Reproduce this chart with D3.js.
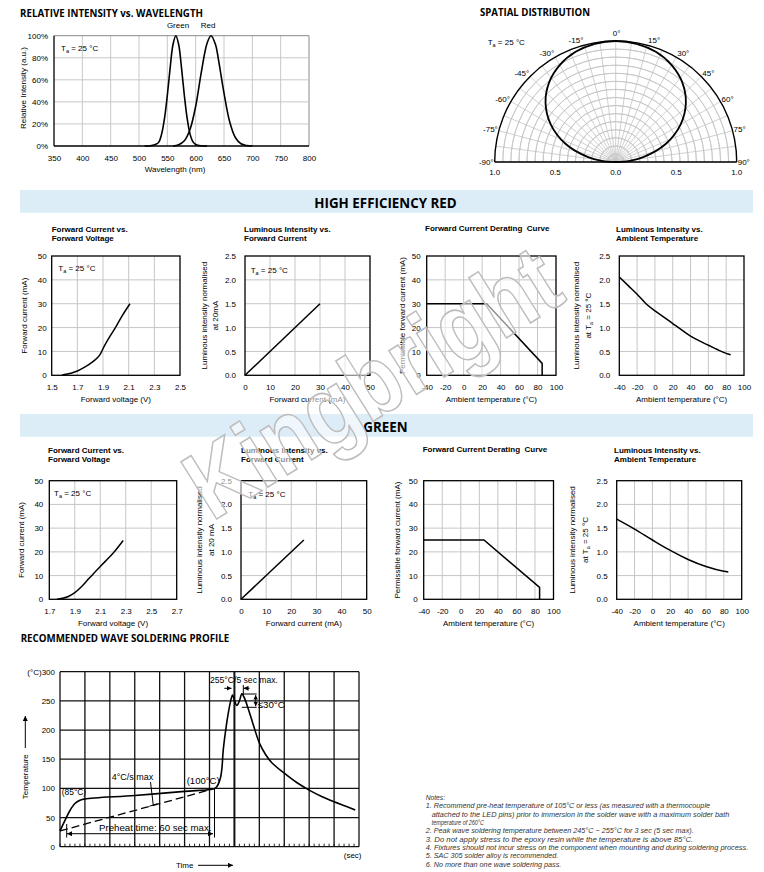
<!DOCTYPE html>
<html><head><meta charset="utf-8">
<script src="https://cdn.jsdelivr.net/npm/d3@7"></script>
<style>
body{margin:0;background:#fff;}
svg{display:block;}
text{white-space:pre;}
</style></head><body>
<svg id="c" width="764" height="872"></svg>
<script>
// ---------- DATA ----------
const wavelengthTicks = [350,400,450,500,550,600,650,700,750,800];
const intensityTicks = [0,20,40,60,80,100];
const greenSpectrum = [[510,0],[520,0.3],[530,1.5],[535,3.5],[540,11],[545,25],[550,46],[555,71],[560,92],[565,100],[570,92],[575,71],[580,46],[585,25],[590,11],[595,4],[600,1.4],[610,0.2],[620,0]];
const redSpectrum = [[560,0],[570,1.1],[580,4.7],[590,15],[600,36],[610,67],[620,93],[627,100],[635,92],[640,79],[650,48],[660,22],[670,7.7],[680,2],[690,0.4],[700,0]];

const polarAngles = [-90,-85,-80,-70,-60,-50,-40,-30,-20,-10,0,10,20,30,40,50,60,70,80,85,90];
const polarValues = [0,0.117,0.231,0.442,0.619,0.757,0.857,0.925,0.969,0.992,1,0.992,0.969,0.925,0.857,0.757,0.619,0.442,0.231,0.117,0];
const polarLabelAngles = [-90,-75,-60,-45,-30,-15,0,15,30,45,60,75,90];
const polarAxisValues = [-1,-0.5,0,0.5,1];

const redIV = [[1.58,0],[1.6,0.3],[1.65,0.9],[1.7,1.8],[1.75,3.2],[1.8,4.9],[1.85,7],[1.88,9],[1.9,11.2],[1.95,16],[2.0,20.3],[2.05,25],[2.11,30]];
const redLI = [[0,0],[30,1.5]];
const redDerating = [[-40,30],[25,30],[85,5],[85,0]];
const redLT = [[-40,2.06],[-30,1.88],[-20,1.7],[-10,1.5],[0,1.35],[10,1.22],[20,1.085],[30,0.95],[40,0.82],[50,0.72],[60,0.63],[70,0.54],[80,0.46],[85,0.43]];

const greenIV = [[1.76,0],[1.8,0.4],[1.85,1.2],[1.9,2.8],[1.95,5.2],[2.0,8.1],[2.05,11],[2.1,13.8],[2.15,16.6],[2.2,19.4],[2.28,24.8]];
const greenLI = [[0,0],[25,1.25]];
const greenDerating = [[-40,25],[25,25],[85,5],[85,0]];
const greenLT = [[-40,1.69],[-20,1.48],[0,1.25],[20,1.03],[40,0.84],[60,0.69],[80,0.59],[85,0.575]];

const redVoltTicks = [1.5,1.7,1.9,2.1,2.3,2.5];
const greenVoltTicks = [1.7,1.9,2.1,2.3,2.5,2.7];
const currentTicks = [0,10,20,30,40,50];
const ratioTicks = [0,0.5,1.0,1.5,2.0,2.5];
const tempTicks = [-40,-20,0,20,40,60,80,100];

const solderProfile = [[0,27],[4,45],[8,62],[12,74],[16,79.5],[20,82],[60,87.8],[100,94.8],[122,98.5],[125,101],[127,107],[129,120],[130,135],[131,165],[133,200],[135,228],[137,250],[138.5,260],[140,251],[142,242],[144,250],[146,262],[148,255],[151,237],[155,210],[160,178],[165,158],[170,144],[180,126],[190,110],[200,97],[210,86],[220,77],[230,69],[237,63]];
const solderRamp = [[0,27],[122,98.5]];
const solderTimeTicks = [0,20,40,60,80,100,120,140,160,180,200,220,240];
const solderTempTicks = [0,50,100,150,200,250,300];

const notes = ["Notes:",
"1. Recommend pre-heat temperature of 105°C or less (as measured with a thermocouple",
"attached to the LED pins) prior to immersion in the solder wave with a maximum solder bath",
"temperature of 260°C",
"2. Peak wave soldering temperature between 245°C ~ 255°C for 3 sec (5 sec max).",
"3. Do not apply stress to the epoxy resin while the temperature is above 85°C.",
"4. Fixtures should not incur stress on the component when mounting and during soldering process.",
"5. SAC 305 solder alloy is recommended.",
"6. No more than one wave soldering pass."];

// ---------- HELPERS ----------
const FONT = '"Liberation Sans", Arial, sans-serif';
const svg = d3.select('#c');
svg.append('rect').attr('width',764).attr('height',872).attr('fill','#fff');
const defs = svg.append('defs');
defs.append('marker').attr('id','ah').attr('viewBox','0 0 6 6').attr('refX',6).attr('refY',3)
  .attr('markerWidth',5).attr('markerHeight',5).attr('orient','auto-start-reverse')
  .append('path').attr('d','M0,0 L6,3 L0,6 z').attr('fill','#000');

function text(g, x, y, s, o={}) {
  const t = g.append('text').attr('x',x).attr('y',y).text(s)
    .attr('font-size', o.size||8).attr('font-family', o.family||FONT)
    .attr('text-anchor', o.anchor||'start').attr('fill', o.fill||'#000');
  if (o.weight) t.attr('font-weight', o.weight);
  if (o.style) t.attr('font-style', o.style);
  if (o.len) t.attr('textLength', o.len).attr('lengthAdjust','spacingAndGlyphs');
  if (o.rotate) t.attr('transform', `rotate(${o.rotate},${x},${y})`);
  return t;
}
function taText(g, x, y, o={}) {
  const t = g.append('text').attr('x',x).attr('y',y).attr('font-size',o.size||8)
    .attr('font-family',FONT).attr('text-anchor',o.anchor||'start');
  if (o.rotate) t.attr('transform', `rotate(${o.rotate},${x},${y})`);
  t.append('tspan').text((o.prefix||'')+'T');
  t.append('tspan').text('a').attr('font-size',5.5).attr('dy',1.8);
  t.append('tspan').text(' = 25 °C').attr('dy',-1.8);
  return t;
}
const f1 = d3.format('.1f');
const fd = d => String(d);

// ---------- SPECTRUM ----------
(function(){
  const g = svg.append('g');
  const x = d3.scaleLinear().domain([350,800]).range([54,309]);
  const y = d3.scaleLinear().domain([0,100]).range([146,35.7]);
  text(g,20,16.5,'RELATIVE INTENSITY vs. WAVELENGTH',{size:11,weight:'bold',family:'"Open Sans",sans-serif',len:183});
  g.append('g').selectAll('line').data(wavelengthTicks.slice(1)).join('line')
    .attr('x1',d=>x(d)).attr('x2',d=>x(d)).attr('y1',y(0)).attr('y2',y(100))
    .attr('stroke',(d,i,a)=>i===a.length-1?'#8a8a8a':'#c8c8c8').attr('stroke-width',1);
  g.append('g').selectAll('line').data(intensityTicks.slice(1)).join('line')
    .attr('x1',x(350)).attr('x2',x(800)).attr('y1',d=>y(d)).attr('y2',d=>y(d))
    .attr('stroke',(d,i,a)=>i===a.length-1?'#8a8a8a':'#c8c8c8').attr('stroke-width',1);
  g.append('line').attr('x1',x(350)).attr('x2',x(350)).attr('y1',y(0)).attr('y2',y(100)).attr('stroke','#000').attr('stroke-width',1.3);
  g.append('line').attr('x1',x(350)).attr('x2',x(800)).attr('y1',y(0)).attr('y2',y(0)).attr('stroke','#000').attr('stroke-width',1.3);
  const xa = g.append('g').attr('transform',`translate(0,${y(0)})`)
    .call(d3.axisBottom(x).tickValues(wavelengthTicks).tickSize(0).tickPadding(9).tickFormat(fd));
  xa.select('.domain').remove();
  xa.attr('font-family',FONT).attr('font-size',8);
  const ya = g.append('g').attr('transform',`translate(${x(350)},0)`)
    .call(d3.axisLeft(y).tickValues(intensityTicks).tickSize(0).tickPadding(6).tickFormat(d=>d+'%'));
  ya.select('.domain').remove();
  ya.attr('font-family',FONT).attr('font-size',8);
  const line = d3.line().x(d=>x(d[0])).y(d=>y(d[1])).curve(d3.curveCatmullRom);
  [greenSpectrum, redSpectrum].forEach(s=>g.append('path').datum(s).attr('d',line)
    .attr('fill','none').attr('stroke','#000').attr('stroke-width',1.6));
  text(g,178,28,'Green',{anchor:'middle'});
  text(g,208,28,'Red',{anchor:'middle'});
  taText(g,61,51);
  text(g,175,172,'Wavelength (nm)',{anchor:'middle'});
  text(g,26,88,'Relative Intensity (a.u.)',{anchor:'middle',rotate:-90});
})();

// ---------- SPATIAL DISTRIBUTION ----------
(function(){
  const cx = 615.7, cy = 162, R = 121;
  const g = svg.append('g');
  text(g,480,15.5,'SPATIAL DISTRIBUTION',{size:11,weight:'bold',family:'"Open Sans",sans-serif',len:110});
  const pg = g.append('g').attr('transform',`translate(${cx},${cy})`);
  const rS = d3.scaleLinear().domain([0,1]).range([0,R]);
  const rad = a => a*Math.PI/180;
  const rings = d3.range(1,15).map(i=>i/15);
  const arc = d3.arc();
  pg.selectAll('path.ring').data(rings).join('path').attr('class','ring')
    .attr('d',d=>arc({innerRadius:rS(d),outerRadius:rS(d),startAngle:-Math.PI/2,endAngle:Math.PI/2}))
    .attr('fill','none').attr('stroke','#c4c4c4').attr('stroke-width',0.8);
  const spokes = d3.range(-90,90.1,7.5);
  pg.selectAll('line.sp').data(spokes).join('line').attr('class','sp')
    .attr('x1',0).attr('y1',0).attr('x2',d=>rS(1)*Math.sin(rad(d))).attr('y2',d=>-rS(1)*Math.cos(rad(d)))
    .attr('stroke','#c4c4c4').attr('stroke-width',0.8);
  pg.append('path').attr('d',arc({innerRadius:R,outerRadius:R,startAngle:-Math.PI/2,endAngle:Math.PI/2}))
    .attr('fill','none').attr('stroke','#000').attr('stroke-width',1.4);
  pg.append('line').attr('x1',-R).attr('x2',R).attr('y1',0).attr('y2',0).attr('stroke','#000').attr('stroke-width',1.4);
  const pts = polarAngles.map((a,i)=>[a,polarValues[i]]);
  pg.append('path').datum(pts)
    .attr('d',d3.lineRadial().angle(d=>rad(d[0])).radius(d=>rS(d[1])).curve(d3.curveCatmullRom))
    .attr('fill','none').attr('stroke','#000').attr('stroke-width',1.8);
  polarLabelAngles.forEach(a=>{
    const tx = R*Math.sin(rad(a)), ty = -R*Math.cos(rad(a));
    const lab = a+'°';
    if (a===0) text(pg,tx+1,ty-5,lab,{anchor:'middle'});
    else text(pg, tx+(a>0?1:-1), ty-5*Math.cos(rad(a))+3, lab, {anchor:a>0?'start':'end'});
  });
  polarAxisValues.forEach(v=>text(pg,rS(Math.abs(v))*Math.sign(v),13,d3.format('.1f')(Math.abs(v)),{anchor:'middle'}));
  taText(g,487.7,45);
})();

// ---------- SECTION BANDS ----------
function band(y, label, x0, w){
  svg.append('rect').attr('x',20).attr('y',y).attr('width',733).attr('height',22.7).attr('fill','#dcedf8');
  text(svg,x0,y+17.5,label,{size:14.5,weight:'bold',family:'"Open Sans",sans-serif',len:w});
}
band(190,'HIGH EFFICIENCY RED',314.3,142.4);
band(414,'GREEN',363.3,44.4);

// ---------- SMALL CHARTS ----------
function smallChart(c){
  const g = svg.append('g');
  const x = d3.scaleLinear().domain(c.xDomain).range([c.x0,c.x1]);
  const y = d3.scaleLinear().domain(c.yDomain).range([c.y1,c.y0]);
  g.append('g').selectAll('line').data(c.xTicks.slice(1,-1)).join('line')
    .attr('x1',d=>x(d)).attr('x2',d=>x(d)).attr('y1',c.y0).attr('y2',c.y1).attr('stroke','#c6c6c6');
  g.append('g').selectAll('line').data(c.yTicks.slice(1,-1)).join('line')
    .attr('x1',c.x0).attr('x2',c.x1).attr('y1',d=>y(d)).attr('y2',d=>y(d)).attr('stroke','#c6c6c6');
  g.append('rect').attr('x',c.x0).attr('y',c.y0).attr('width',c.x1-c.x0).attr('height',c.y1-c.y0)
    .attr('fill','none').attr('stroke','#000').attr('stroke-width',1.3);
  g.append('path').datum(c.data).attr('d',d3.line().x(d=>x(d[0])).y(d=>y(d[1])).curve(c.curve||d3.curveLinear))
    .attr('fill','none').attr('stroke','#000').attr('stroke-width',1.5);
  const xa = g.append('g').attr('transform',`translate(0,${c.y1})`)
    .call(d3.axisBottom(x).tickValues(c.xTicks).tickSize(0).tickPadding(9).tickFormat(c.xFmt));
  xa.select('.domain').remove(); xa.attr('font-family',FONT).attr('font-size',8);
  const ya = g.append('g').attr('transform',`translate(${c.x0},0)`)
    .call(d3.axisLeft(y).tickValues(c.yTicks).tickSize(0).tickPadding(c.yGap).tickFormat(c.yFmt));
  ya.select('.domain').remove(); ya.attr('font-family',FONT).attr('font-size',8);
  c.title.forEach((t,i)=>text(g,c.titleX,c.titleY+i*9.3,t,{weight:'bold'}));
  const my = (c.y0+c.y1)/2;
  text(g,c.ylabX[0],my,c.ylab,{anchor:'middle',rotate:-90});
  if (c.ylab2==='ta') taText(g,c.ylabX[1],my,{anchor:'middle',rotate:-90,prefix:'at '});
  else if (c.ylab2) text(g,c.ylabX[1],my,c.ylab2,{anchor:'middle',rotate:-90});
  text(g,(c.x0+c.x1)/2,c.xlabY,c.xlab,{anchor:'middle'});
  if (c.ta) taText(g,c.ta[0],c.ta[1]);
}
const rowR = {y0:256,y1:375.3,titleY:232,xlabY:402};
const rowG = {y0:480.7,y1:599.3,titleY:453,xlabY:626};

smallChart({...rowR,x0:51.7,x1:180,xDomain:[1.5,2.5],xTicks:redVoltTicks,xFmt:f1,yDomain:[0,50],yTicks:currentTicks,yFmt:fd,yGap:5,
  data:redIV,curve:d3.curveMonotoneX,title:['Forward Current vs.','Forward Voltage'],titleX:51.7,
  ylab:'Forward current (mA)',ylabX:[27],xlab:'Forward voltage (V)',ta:[58.3,271]});
smallChart({...rowR,x0:245,x1:370,xDomain:[0,50],xTicks:currentTicks,xFmt:fd,yDomain:[0,2.5],yTicks:ratioTicks,yFmt:f1,yGap:9,
  data:redLI,title:['Luminous Intensity vs.','Forward Current'],titleX:244,
  ylab:'Luminous intensity normalised',ylab2:'at 20mA',ylabX:[206.7,218],xlab:'Forward current (mA)',ta:[250.7,273]});
smallChart({...rowR,x0:426.7,x1:556,xDomain:[-40,100],xTicks:tempTicks,xFmt:fd,yDomain:[0,50],yTicks:currentTicks,yFmt:fd,yGap:6,
  data:redDerating,title:['Forward Current Derating  Curve'],titleX:425,titleY:231,
  ylab:'Permissible forward current (mA)',ylabX:[404.7],xlab:'Ambient temperature (°C)'});
smallChart({...rowR,x0:619.3,x1:744,xDomain:[-40,100],xTicks:tempTicks,xFmt:fd,yDomain:[0,2.5],yTicks:ratioTicks,yFmt:f1,yGap:9,
  data:redLT,curve:d3.curveMonotoneX,title:['Luminous Intensity vs.','Ambient Temperature'],titleX:616,
  ylab:'Luminous intensity normalised',ylab2:'ta',ylabX:[579,591.3],xlab:'Ambient temperature (°C)'});

smallChart({...rowG,x0:49.3,x1:176.7,xDomain:[1.7,2.7],xTicks:greenVoltTicks,xFmt:f1,yDomain:[0,50],yTicks:currentTicks,yFmt:fd,yGap:6,
  data:greenIV,curve:d3.curveMonotoneX,title:['Forward Current vs.','Forward Voltage'],titleX:48,
  ylab:'Forward current (mA)',ylabX:[23.7],xlab:'Forward voltage (V)',ta:[54,495.7]});
smallChart({...rowG,x0:241,x1:366.7,xDomain:[0,50],xTicks:currentTicks,xFmt:fd,yDomain:[0,2.5],yTicks:ratioTicks,yFmt:f1,yGap:9,
  data:greenLI,title:['Luminous Intensity vs.','Forward Current'],titleX:241,
  ylab:'Luminous intensity normalised',ylab2:'at 20 mA',ylabX:[202.3,213.7],xlab:'Forward current (mA)',ta:[248.3,497]});
smallChart({...rowG,x0:423.7,x1:553.5,xDomain:[-40,100],xTicks:tempTicks,xFmt:fd,yDomain:[0,50],yTicks:currentTicks,yFmt:fd,yGap:6,
  data:greenDerating,title:['Forward Current Derating  Curve'],titleX:422.7,titleY:452,
  ylab:'Permissible forward current (mA)',ylabX:[400.3],xlab:'Ambient temperature (°C)'});
smallChart({...rowG,x0:616.7,x1:741.7,xDomain:[-40,100],xTicks:tempTicks,xFmt:fd,yDomain:[0,2.5],yTicks:ratioTicks,yFmt:f1,yGap:9,
  data:greenLT,curve:d3.curveMonotoneX,title:['Luminous Intensity vs.','Ambient Temperature'],titleX:614,
  ylab:'Luminous intensity normalised',ylab2:'ta',ylabX:[574.7,588],xlab:'Ambient temperature (°C)'});

// ---------- SOLDERING PROFILE ----------
(function(){
  const g = svg.append('g');
  const x = d3.scaleLinear().domain([0,240]).range([60,359]);
  const y = d3.scaleLinear().domain([0,300]).range([846.7,671.7]);
  const NF = '"Liberation Sans Narrow","Liberation Sans",sans-serif';
  text(g,20.7,642,'RECOMMENDED WAVE SOLDERING PROFILE',{size:11,weight:'bold',family:'"Open Sans",sans-serif',len:208.5});
  g.append('g').selectAll('line').data(solderTimeTicks).join('line')
    .attr('x1',d=>x(d)).attr('x2',d=>x(d)).attr('y1',y(0)).attr('y2',y(300))
    .attr('stroke','#111').attr('stroke-width',d=>d===140?2:1.3);
  g.append('g').selectAll('line').data(solderTempTicks).join('line')
    .attr('x1',x(0)).attr('x2',x(240)).attr('y1',d=>y(d)).attr('y2',d=>y(d))
    .attr('stroke','#111').attr('stroke-width',1.3);
  const minor = d3.range(0,240,4);
  g.append('g').selectAll('line').data(minor).join('line')
    .attr('x1',d=>x(d)).attr('x2',d=>x(d)).attr('y1',y(0)).attr('y2',y(0)-3)
    .attr('stroke','#111').attr('stroke-width',0.9);
  const ya = g.append('g').attr('transform',`translate(${x(0)},0)`)
    .call(d3.axisLeft(y).tickValues(solderTempTicks).tickSize(0).tickPadding(5).tickFormat(d=>d===300?'(°C)300':d));
  ya.select('.domain').remove(); ya.attr('font-family',FONT).attr('font-size',8);
  g.append('path').datum(solderRamp).attr('d',d3.line().x(d=>x(d[0])).y(d=>y(d[1])))
    .attr('fill','none').attr('stroke','#000').attr('stroke-width',1.3).attr('stroke-dasharray','8,4');
  g.append('path').datum(solderProfile).attr('d',d3.line().x(d=>x(d[0])).y(d=>y(d[1])).curve(d3.curveCatmullRom))
    .attr('fill','none').attr('stroke','#000').attr('stroke-width',1.6);
  const ln = (x1,y1,x2,y2,o={})=>{const l=g.append('line').attr('x1',x1).attr('y1',y1).attr('x2',x2).attr('y2',y2)
    .attr('stroke','#000').attr('stroke-width',o.w||1);
    if(o.end) l.attr('marker-end','url(#ah)'); if(o.start) l.attr('marker-start','url(#ah)'); return l;};
  text(g,210,683,'255°C/5 sec max.',{size:9.5,family:NF,len:68});
  ln(224.3,688.3,231.5,688.3,{end:true});
  ln(249.5,688.3,243.5,688.3,{end:true});
  ln(243.3,685,243.3,695);
  ln(241.7,694,256.7,694); ln(241.7,707.3,256.7,707.3);
  ln(255.7,695,255.7,706.3,{start:true,end:true,w:0.9});
  text(g,257.7,707.8,'≤30°C',{size:9.5,family:NF,len:27});
  text(g,186.7,783.5,'(100°C)',{size:9.5,family:NF,len:33});
  text(g,61.7,795,'(85°C)',{size:9.5,family:NF,len:24.5});
  text(g,111.7,779.5,'4°C/s max',{size:9.5,family:NF,len:41.5});
  ln(150.5,782,153.3,805.5); ln(149.3,806.3,157.3,803.7);
  text(g,99,831,'Preheat time: 60 sec max.',{size:9.5,family:NF,len:112.5});
  ln(67,833.7,213,833.7,{start:true,end:true});
  ln(66.7,824,66.7,837.5); ln(214.5,789,214.5,837.5);
  text(g,361.5,857.8,'(sec)',{size:8,anchor:'end'});
  text(g,176,868,'Time',{size:8});
  ln(198,865.3,233,865.3,{end:true});
  text(g,28,776.7,'Temperature',{size:8,anchor:'middle',rotate:-90});
  ln(25.3,748,25.3,716,{end:true});
})();

// ---------- NOTES ----------
(function(){
  const g = svg.append('g');
  const ys = [800.2,808.2,816.8,824.8,833.2,841.5,850.2,858.2,866.5];
  const xs = [425.7,425.7,431.7,431.7,425.7,425.7,425.7,425.7,425.7];
  const lens = [19.3,284.3,297.6,52.3,268,267.6,322.6,132.6,135.6];
  notes.forEach((t,i)=>text(g,xs[i],ys[i],t,{size:7,style:'italic',fill:'#333',len:lens[i]}));
})();

// ---------- WATERMARK ----------
svg.append('text').attr('transform','translate(372,382) rotate(-32)')
  .attr('text-anchor','middle').attr('dominant-baseline','central')
  .attr('font-family',FONT).attr('font-weight','bold').attr('font-size',98)
  .attr('textLength',420).attr('lengthAdjust','spacingAndGlyphs')
  .attr('fill','#fff').attr('fill-opacity',0.55).attr('stroke','#bdbdbd').attr('stroke-width',1.6)
  .text('Kingbright');
</script></body></html>
